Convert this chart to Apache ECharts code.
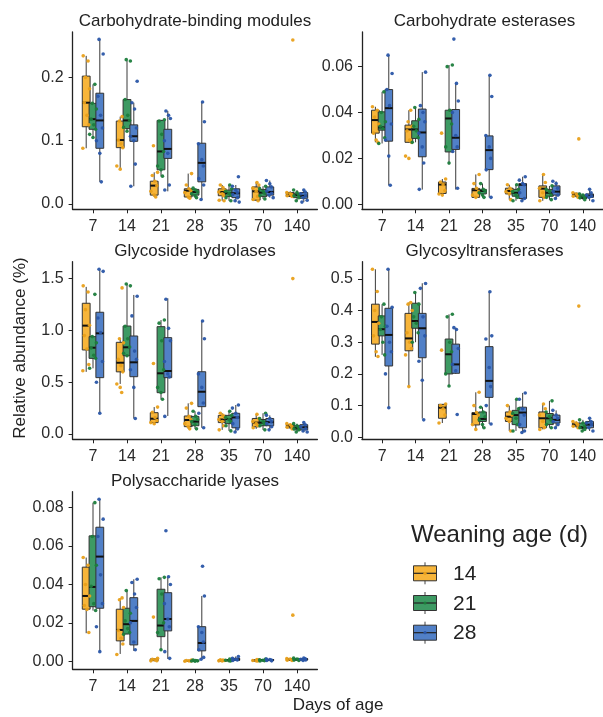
<!DOCTYPE html>
<html><head><meta charset="utf-8">
<script src="https://cdn.jsdelivr.net/npm/echarts@6/dist/echarts.min.js"></script>
<style>html,body{margin:0;padding:0;background:#fff}#c{width:603px;height:717px}</style>
</head><body><div id="c"></div>
<script>
// ---------- data ----------
const DAYS = ['7','14','21','28','35','70','140'];
const GROUPS = ['14','21','28'];
// box stats per day: [lower whisker, Q1, median, Q3, upper whisker]
const cbmBox14 = [[0.088,0.122,0.160,0.202,0.234],[0.055,0.089,0.101,0.131,0.138],[0.011,0.014,0.029,0.036,0.050],[0.009,0.011,0.021,0.024,0.048],[0.005,0.013,0.019,0.024,0.030],[0.005,0.006,0.020,0.027,0.034],[0.012,0.012,0.015,0.018,0.020]];
const cbmBox21 = [[0.105,0.118,0.134,0.159,0.189],[0.115,0.119,0.132,0.165,0.226],[0.044,0.054,0.083,0.132,0.133],[0.010,0.014,0.019,0.023,0.025],[0.005,0.012,0.017,0.022,0.030],[0.008,0.012,0.018,0.023,0.028],[0.005,0.010,0.014,0.017,0.022]];
const cbmBox28 = [[0.035,0.088,0.132,0.175,0.260],[0.028,0.099,0.107,0.125,0.160],[0.020,0.072,0.087,0.118,0.147],[0.007,0.035,0.065,0.096,0.161],[0.003,0.010,0.017,0.024,0.030],[0.010,0.014,0.019,0.027,0.037],[0.003,0.009,0.013,0.018,0.022]];
const cbmPts14 = [[0.234,0.226,0.200,0.182,0.160,0.140,0.125,0.088],[0.138,0.131,0.120,0.101,0.095,0.089,0.060,0.055],[0.092,0.050,0.045,0.036,0.029,0.020,0.014,0.011],[0.048,0.030,0.024,0.021,0.018,0.011,0.009],[0.030,0.026,0.022,0.019,0.016,0.013,0.006,0.005],[0.034,0.030,0.025,0.020,0.012,0.007,0.005],[0.259,0.018,0.016,0.015,0.013,0.012]];
const cbmPts21 = [[0.189,0.159,0.150,0.134,0.125,0.118,0.110,0.105],[0.228,0.226,0.165,0.140,0.132,0.121,0.115],[0.133,0.131,0.110,0.083,0.060,0.054,0.044],[0.025,0.022,0.019,0.016,0.013,0.010],[0.030,0.024,0.020,0.017,0.014,0.010,0.005],[0.028,0.024,0.020,0.017,0.013,0.008],[0.022,0.018,0.015,0.013,0.010,0.005]];
const cbmPts28 = [[0.260,0.237,0.170,0.140,0.120,0.100,0.080,0.035],[0.194,0.160,0.150,0.120,0.107,0.100,0.063,0.028],[0.147,0.140,0.135,0.100,0.080,0.030,0.022],[0.161,0.130,0.095,0.070,0.060,0.040,0.030,0.007],[0.043,0.028,0.022,0.018,0.015,0.010,0.005,0.003],[0.037,0.032,0.027,0.020,0.017,0.014,0.010],[0.022,0.019,0.016,0.013,0.010,0.006,0.003]];

const ceBox14 = [[0.027,0.031,0.0367,0.041,0.0425],[0.027,0.027,0.0326,0.0345,0.041],[0.004,0.0047,0.0086,0.0097,0.011],[0.003,0.003,0.0061,0.0069,0.013],[0.002,0.0045,0.0058,0.007,0.0085],[0.0015,0.003,0.0068,0.008,0.013],[0.003,0.0035,0.0042,0.0048,0.005]];
const ceBox21 = [[0.0265,0.0323,0.0335,0.0403,0.049],[0.027,0.0287,0.0326,0.0364,0.0422],[0.0173,0.0228,0.0374,0.041,0.0607],[0.003,0.0045,0.0058,0.0065,0.009],[0.0015,0.0035,0.005,0.0065,0.0085],[0.002,0.0035,0.005,0.0065,0.008],[0.002,0.0025,0.003,0.004,0.0045]];
const ceBox28 = [[0.0083,0.0275,0.0419,0.050,0.065],[0.0064,0.0207,0.0313,0.0415,0.0576],[0.0064,0.0239,0.029,0.0413,0.0527],[0.003,0.0151,0.0236,0.0298,0.0562],[0.0015,0.0025,0.0085,0.009,0.012],[0.0025,0.004,0.0055,0.008,0.010],[0.0015,0.003,0.0037,0.0045,0.0065]];
const cePts14 = [[0.0425,0.041,0.038,0.035,0.031,0.028,0.027],[0.041,0.036,0.034,0.032,0.028,0.027,0.021,0.020],[0.031,0.011,0.0097,0.0085,0.006,0.0045,0.004],[0.013,0.009,0.007,0.0055,0.004,0.003],[0.0085,0.007,0.006,0.0055,0.0045,0.002],[0.013,0.0095,0.007,0.005,0.003,0.0015],[0.0285,0.005,0.0045,0.004,0.0035,0.003]];
const cePts21 = [[0.049,0.040,0.036,0.034,0.033,0.029,0.0265],[0.0422,0.037,0.034,0.032,0.029,0.027],[0.0607,0.060,0.041,0.035,0.025,0.018],[0.009,0.0065,0.0058,0.005,0.004,0.003],[0.0085,0.0065,0.0055,0.004,0.003,0.0015],[0.008,0.0065,0.0055,0.004,0.003,0.002],[0.0045,0.004,0.003,0.0028,0.002]];
const cePts28 = [[0.065,0.057,0.050,0.043,0.035,0.028,0.021,0.0083],[0.0576,0.043,0.040,0.036,0.031,0.025,0.018,0.0065],[0.072,0.0527,0.045,0.040,0.030,0.025,0.023,0.007],[0.0562,0.047,0.030,0.025,0.020,0.015,0.003],[0.012,0.0105,0.009,0.0085,0.005,0.0025,0.0015],[0.010,0.009,0.007,0.0055,0.004,0.0025],[0.0065,0.005,0.004,0.0035,0.003,0.0015]];

const ghBox14 = [[0.60,0.811,1.046,1.262,1.42],[0.483,0.60,0.688,0.885,0.924],[0.10,0.11,0.148,0.206,0.26],[0.05,0.071,0.135,0.174,0.296],[0.04,0.11,0.14,0.18,0.20],[0.05,0.07,0.11,0.15,0.19],[0.05,0.06,0.075,0.09,0.10]];
const ghBox21 = [[0.634,0.73,0.833,0.94,0.94],[0.756,0.756,0.837,1.042,1.448],[0.335,0.399,0.586,1.036,1.10],[0.05,0.08,0.12,0.17,0.22],[0.03,0.10,0.145,0.18,0.22],[0.04,0.08,0.11,0.14,0.20],[0.02,0.04,0.06,0.08,0.10]];
const ghBox28 = [[0.20,0.544,0.972,1.175,1.583],[0.15,0.553,0.692,0.946,1.342],[0.174,0.544,0.608,0.93,1.31],[0.06,0.264,0.408,0.601,1.09],[0.02,0.06,0.16,0.20,0.28],[0.04,0.08,0.115,0.15,0.18],[0.02,0.04,0.065,0.09,0.11]];
const ghPts14 = [[1.43,1.37,1.20,1.05,0.95,0.82,0.67,0.61],[1.41,0.92,0.88,0.72,0.66,0.60,0.483,0.45,0.40],[0.68,0.26,0.21,0.16,0.13,0.11,0.10],[0.296,0.25,0.17,0.14,0.10,0.07,0.05],[0.20,0.18,0.16,0.14,0.12,0.08,0.04],[0.19,0.15,0.12,0.10,0.08,0.06],[1.50,0.10,0.09,0.075,0.065,0.05]];
const ghPts21 = [[1.348,0.94,0.88,0.83,0.76,0.73,0.634],[1.448,1.43,1.04,0.92,0.84,0.78,0.756],[1.10,1.07,0.90,0.62,0.45,0.40,0.335],[0.22,0.17,0.14,0.12,0.09,0.05],[0.22,0.18,0.16,0.14,0.12,0.08,0.03],[0.20,0.15,0.12,0.10,0.08,0.04],[0.10,0.08,0.065,0.05,0.04,0.02]];
const ghPts28 = [[1.59,1.57,1.12,0.98,0.70,0.50,0.20],[1.33,1.14,0.80,0.72,0.62,0.45,0.15],[1.30,1.02,0.90,0.70,0.58,0.55,0.17],[1.09,0.92,0.58,0.45,0.30,0.20,0.06],[0.28,0.25,0.20,0.16,0.10,0.05,0.02],[0.18,0.15,0.12,0.10,0.07,0.04],[0.11,0.09,0.07,0.05,0.03,0.02]];

const gtBox14 = [[0.254,0.294,0.364,0.42,0.53],[0.16,0.273,0.312,0.391,0.425],[0.045,0.06,0.0935,0.104,0.105],[0.025,0.039,0.0735,0.078,0.142],[0.02,0.05,0.065,0.08,0.10],[0.025,0.03,0.06,0.08,0.105],[0.03,0.035,0.04,0.045,0.05]];
const gtBox21 = [[0.26,0.32,0.341,0.383,0.42],[0.30,0.344,0.367,0.423,0.457],[0.162,0.20,0.262,0.31,0.388],[0.03,0.05,0.058,0.08,0.095],[0.02,0.04,0.07,0.085,0.12],[0.03,0.04,0.06,0.075,0.115],[0.02,0.028,0.032,0.045,0.055]];
const gtBox28 = [[0.093,0.225,0.323,0.407,0.53],[0.059,0.251,0.344,0.391,0.486],[0.20,0.202,0.23,0.294,0.346],[0.042,0.126,0.178,0.286,0.459],[0.015,0.03,0.078,0.095,0.14],[0.03,0.045,0.055,0.07,0.085],[0.02,0.03,0.04,0.05,0.06]];
const gtPts14 = [[0.53,0.46,0.40,0.36,0.32,0.27,0.255],[0.425,0.42,0.40,0.33,0.30,0.28,0.26,0.16],[0.275,0.105,0.10,0.09,0.07,0.045],[0.142,0.10,0.078,0.07,0.04,0.025],[0.10,0.08,0.07,0.06,0.05,0.02],[0.105,0.09,0.07,0.05,0.03,0.025],[0.414,0.05,0.045,0.04,0.035,0.03]];
const gtPts21 = [[0.42,0.38,0.35,0.34,0.30,0.26],[0.457,0.42,0.38,0.36,0.33,0.30],[0.388,0.38,0.30,0.27,0.20,0.162],[0.095,0.08,0.065,0.055,0.04,0.03],[0.12,0.09,0.075,0.06,0.04,0.02],[0.115,0.08,0.065,0.055,0.04,0.03],[0.055,0.045,0.035,0.03,0.025,0.02]];
const gtPts28 = [[0.53,0.41,0.35,0.30,0.27,0.20,0.093],[0.485,0.47,0.38,0.32,0.24,0.18,0.055],[0.346,0.34,0.28,0.23,0.21,0.072],[0.459,0.32,0.31,0.22,0.16,0.10,0.042],[0.14,0.12,0.09,0.07,0.04,0.02,0.015],[0.085,0.07,0.06,0.05,0.04,0.03],[0.06,0.05,0.045,0.04,0.03,0.02]];

const plBox14 = [[0.0146,0.0271,0.034,0.049,0.054],[0.0038,0.0106,0.0163,0.0271,0.0328],[0.0002,0.0003,0.0007,0.0012,0.0015],[0.0,0.0001,0.0002,0.0004,0.0006],[0.0001,0.0002,0.0004,0.0006,0.0008],[0.0001,0.0002,0.0004,0.0007,0.0009],[0.0004,0.0005,0.0008,0.0012,0.0014]];
const plBox21 = [[0.0264,0.0284,0.0387,0.0653,0.0826],[0.014,0.0142,0.0193,0.0276,0.0368],[0.0059,0.0128,0.0186,0.0375,0.0437],[0.0,0.0001,0.0002,0.0004,0.0006],[0.0001,0.0003,0.0005,0.0008,0.0012],[0.0001,0.0003,0.0005,0.0008,0.0012],[0.0004,0.0006,0.0009,0.0012,0.0016]];
const plBox28 = [[0.005,0.0276,0.0545,0.0698,0.0844],[0.0054,0.0085,0.021,0.0331,0.0427],[0.0012,0.0158,0.022,0.0357,0.0437],[0.001,0.0054,0.0095,0.018,0.034],[0.0003,0.0005,0.0009,0.0015,0.0025],[0.0002,0.0004,0.0006,0.0009,0.0012],[0.0004,0.0007,0.001,0.0013,0.0016]];
const plPts14 = [[0.054,0.050,0.040,0.034,0.029,0.027,0.015],[0.033,0.032,0.028,0.016,0.012,0.009,0.0035],[0.023,0.0015,0.001,0.0007,0.0003,0.0002],[0.0006,0.0004,0.0002,0.0001,0.0],[0.0008,0.0006,0.0004,0.0002,0.0001],[0.0009,0.0007,0.0004,0.0002,0.0001],[0.024,0.0014,0.0012,0.0008,0.0005,0.0004]];
const plPts21 = [[0.0826,0.065,0.050,0.039,0.030,0.0264],[0.0368,0.025,0.021,0.017,0.015,0.014],[0.0437,0.043,0.035,0.020,0.015,0.006],[0.0006,0.0004,0.0002,0.0001,0.0],[0.0012,0.0008,0.0005,0.0003,0.0001],[0.0012,0.0008,0.0005,0.0003,0.0001],[0.0016,0.0012,0.0009,0.0006,0.0004]];
const plPts28 = [[0.0844,0.074,0.065,0.045,0.030,0.018,0.005],[0.0427,0.041,0.035,0.028,0.020,0.010,0.006],[0.068,0.044,0.040,0.030,0.022,0.018,0.005,0.0015],[0.0495,0.034,0.018,0.015,0.010,0.006,0.002,0.001],[0.0025,0.0015,0.001,0.0007,0.0004],[0.0012,0.0009,0.0006,0.0004,0.0002],[0.0016,0.0013,0.001,0.0007,0.0004]];

// y tick labels per panel
const cbmTicks = ['0.0','0.1','0.2'];
const ceTicks = ['0.00','0.02','0.04','0.06'];
const ghTicks = ['0.0','0.5','1.0','1.5'];
const gtTicks = ['0.0','0.1','0.2','0.3','0.4','0.5'];
const plTicks = ['0.00','0.02','0.04','0.06','0.08'];

// ---------- layout / style ----------
const FONT = "'Liberation Sans', Arial, sans-serif";
const BOX_FILL = ['#F7B53A', '#3D9A63', '#5180C7'];
const PT_COL = ['#E9A01A', '#1C7D3C', '#2A56A8'];
const OFFS = [-0.2, 0, 0.2];
const BOXW = 0.23;
const JIT = [-0.8, 0.5, -0.2, 0.9, -0.5, 0.2, 0.7, -0.9, 0.0, 0.4];
const JW = 0.11;

const PANELS = [
  {title:'Carbohydrate-binding modules', box:[cbmBox14,cbmBox21,cbmBox28], pts:[cbmPts14,cbmPts21,cbmPts28], ticks:cbmTicks, ymin:-0.0084, ymax:0.2717, grid:{left:72.6, top:32, width:244.8, height:177.3}},
  {title:'Carbohydrate esterases', box:[ceBox14,ceBox21,ceBox28], pts:[cePts14,cePts21,cePts28], ticks:ceTicks, ymin:-0.0022, ymax:0.0751, grid:{left:362, top:32, width:245, height:177.3}},
  {title:'Glycoside hydrolases', box:[ghBox14,ghBox21,ghBox28], pts:[ghPts14,ghPts21,ghPts28], ticks:ghTicks, ymin:-0.051, ymax:1.663, grid:{left:72.6, top:261.7, width:244.8, height:177.6}},
  {title:'Glycosyltransferases', box:[gtBox14,gtBox21,gtBox28], pts:[gtPts14,gtPts21,gtPts28], ticks:gtTicks, ymin:-0.0063, ymax:0.554, grid:{left:362, top:261.7, width:245, height:177.6}},
  {title:'Polysaccharide lyases', box:[plBox14,plBox21,plBox28], pts:[plPts14,plPts21,plPts28], ticks:plTicks, ymin:-0.0042, ymax:0.0883, grid:{left:72.6, top:491.7, width:244.8, height:177.6}}
];

const AX = '#222';
const grids = [], xAxes = [], yAxes = [], series = [], graphics = [];

PANELS.forEach((p, pi) => {
  grids.push(Object.assign({containLabel:false}, p.grid));
  xAxes.push({
    type:'value', gridIndex:pi, min:-0.6, max:6.6,
    axisLine:{show:true, onZero:false, lineStyle:{color:AX, width:1.3}},
    axisTick:{show:true, length:4, lineStyle:{color:AX, width:1}, customValues:[0,1,2,3,4,5,6]},
    axisLabel:{show:true, customValues:[0,1,2,3,4,5,6], formatter:v => DAYS[Math.round(v)], fontSize:16, fontFamily:FONT, color:'#2a2a2a', margin:9},
    splitLine:{show:false}
  });
  const tv = p.ticks.map(t => parseFloat(t));
  yAxes.push({
    type:'value', gridIndex:pi, min:p.ymin, max:p.ymax,
    axisLine:{show:true, onZero:false, lineStyle:{color:AX, width:1.3}},
    axisTick:{show:true, length:4, lineStyle:{color:AX, width:1}, customValues:tv},
    axisLabel:{show:true, customValues:tv, formatter:v => { const k = tv.findIndex(t => Math.abs(t - v) < 1e-9); return k >= 0 ? p.ticks[k] : ''; }, fontSize:16, fontFamily:FONT, color:'#2a2a2a', margin:9},
    splitLine:{show:false}
  });
  // boxes
  for (let g = 0; g < 3; g++) {
    const data = p.box[g].map((b, i) => [i + OFFS[g], b[0], b[1], b[2], b[3], b[4]]);
    const fill = BOX_FILL[g];
    series.push({
      type:'custom', xAxisIndex:pi, yAxisIndex:pi, data:data,
      encode:{x:0, y:[1,2,3,4,5]},
      z:2, silent:true,
      renderItem:(params, api) => {
        const x = api.value(0);
        const lo = api.coord([x, api.value(1)]);
        const q1 = api.coord([x, api.value(2)]);
        const md = api.coord([x, api.value(3)]);
        const q3 = api.coord([x, api.value(4)]);
        const hi = api.coord([x, api.value(5)]);
        const w = api.size([BOXW, 0])[0];
        const cx = lo[0];
        return {type:'group', children:[
          {type:'line', shape:{x1:cx, y1:lo[1], x2:cx, y2:hi[1]}, style:{stroke:'#3a3a3a', lineWidth:1}},
          {type:'rect', shape:{x:cx - w/2, y:q3[1], width:w, height:Math.max(q1[1] - q3[1], 0.8)}, style:{fill:fill, stroke:'#333', lineWidth:1}},
          {type:'line', shape:{x1:cx - w/2, y1:md[1], x2:cx + w/2, y2:md[1]}, style:{stroke:'#111', lineWidth:2}}
        ]};
      }
    });
  }
  // jittered points
  for (let g = 0; g < 3; g++) {
    const data = [];
    p.pts[g].forEach((arr, i) => arr.forEach((v, k) => data.push([i + OFFS[g] + JIT[(k + i + g) % JIT.length] * JW, v])));
    series.push({
      type:'scatter', xAxisIndex:pi, yAxisIndex:pi, data:data, symbol:'circle', symbolSize:3.6,
      itemStyle:{color:PT_COL[g], opacity:0.95}, z:5, silent:true
    });
  }
  // panel title
  const cx = p.grid.left + p.grid.width / 2;
  graphics.push({type:'text', x:cx, y:p.grid.top - 10.5, style:{text:p.title, font:'17px ' + FONT, fill:'#222', textAlign:'center', textVerticalAlign:'middle'}});
});

// axis titles
graphics.push({type:'text', x:20, y:348, rotation:Math.PI/2, style:{text:'Relative abundance (%)', font:'17px ' + FONT, fill:'#222', textAlign:'center', textVerticalAlign:'middle'}});
graphics.push({type:'text', x:338, y:705, style:{text:'Days of age', font:'17px ' + FONT, fill:'#222', textAlign:'center', textVerticalAlign:'middle'}});

// legend
graphics.push({type:'text', x:411, y:535, style:{text:'Weaning age (d)', font:'24px ' + FONT, fill:'#222', textAlign:'left', textVerticalAlign:'middle'}});
GROUPS.forEach((lab, g) => {
  const yc = 573.3 + g * 29.7, kx = 425;
  graphics.push({type:'line', shape:{x1:kx, y1:yc - 11, x2:kx, y2:yc + 11}, style:{stroke:'#444', lineWidth:1}});
  graphics.push({type:'rect', shape:{x:kx - 11.5, y:yc - 7.5, width:23, height:15}, style:{fill:BOX_FILL[g], stroke:'#333', lineWidth:1}});
  graphics.push({type:'line', shape:{x1:kx - 11.5, y1:yc, x2:kx + 11.5, y2:yc}, style:{stroke:'#222', lineWidth:1.2}});
  graphics.push({type:'circle', shape:{cx:kx, cy:yc, r:1.6}, style:{fill:PT_COL[g]}});
  graphics.push({type:'text', x:453, y:yc + 1, style:{text:lab, font:'21px ' + FONT, fill:'#222', textAlign:'left', textVerticalAlign:'middle'}});
});

const chart = echarts.init(document.getElementById('c'), null, {renderer:'canvas'});
chart.setOption({
  animation:false,
  backgroundColor:'#fff',
  grid:grids, xAxis:xAxes, yAxis:yAxes, series:series,
  graphic:{elements:graphics}
});
</script></body></html>
